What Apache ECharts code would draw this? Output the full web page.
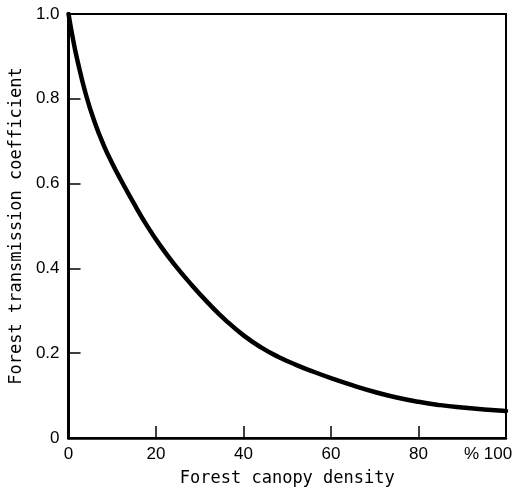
<!DOCTYPE html>
<html>
<head>
<meta charset="utf-8">
<script src="https://cdn.jsdelivr.net/npm/echarts@6/dist/echarts.min.js"></script>
<style>
html,body{margin:0;padding:0;background:#fff;}
#chart{width:520px;height:492px;}
</style>
</head>
<body>
<div id="chart"></div>
<script>
// Forest canopy density (%)
var canopyDensity = [0, 1, 2, 4, 6, 8, 10, 12, 15, 18, 21, 24, 28, 32, 36, 40, 44, 48, 52, 56, 60, 65, 70, 75, 80, 85, 90, 95, 100];
// Forest transmission coefficient
var transmission = [1.0, 0.942, 0.892, 0.809, 0.744, 0.6915, 0.6475, 0.608, 0.552, 0.4998, 0.4533, 0.412, 0.3626, 0.3176, 0.277, 0.242, 0.2136, 0.1912, 0.1726, 0.1562, 0.1412, 0.124, 0.1085, 0.0955, 0.0853, 0.0775, 0.0718, 0.0673, 0.0635];
var xTicks = [0, 20, 40, 60, 80, 100];
var yTicks = [0, 0.2, 0.4, 0.6, 0.8, 1.0];
var xTitle = 'Forest canopy density';
var yTitle = 'Forest transmission coefficient';

var points = canopyDensity.map(function (x, i) { return [x, transmission[i]]; });

var labelFamily = 'Liberation Sans, Arial, sans-serif';
var nameFont = {color: '#000', fontFamily: 'DejaVu Sans Mono, monospace', fontSize: 17};

var chart = echarts.init(document.getElementById('chart'), null, {renderer: 'canvas'});
chart.setOption({
  animation: false,
  backgroundColor: '#fff',
  grid: {left: 63, right: 14, top: 14, bottom: 52, show: true, borderColor: '#000', borderWidth: 2, backgroundColor: 'transparent'},
  xAxis: {
    type: 'value', min: xTicks[0], max: xTicks[xTicks.length - 1], interval: 20,
    name: xTitle, nameLocation: 'middle', nameGap: 32,
    nameTextStyle: nameFont,
    axisLine: {show: true, lineStyle: {color: '#000', width: 2.5}},
    axisTick: {show: true, inside: true, length: 12, lineStyle: {color: '#000', width: 1.5}},
    axisLabel: {
      margin: 8,
      formatter: function (v) { return v === 100 ? '{r|% 100}' : String(v); },
      rich: {r: {color: '#000', fontFamily: labelFamily, fontSize: 17, padding: [0, 36, 0, 0]}},
      color: '#000', fontFamily: labelFamily, fontSize: 17
    },
    splitLine: {show: false}
  },
  yAxis: {
    type: 'value', min: yTicks[0], max: yTicks[yTicks.length - 1], interval: 0.2,
    name: yTitle, nameLocation: 'middle', nameGap: 42, nameRotate: 90,
    nameTextStyle: nameFont,
    axisLine: {show: true, lineStyle: {color: '#000', width: 3}},
    axisTick: {show: true, inside: true, length: 12, lineStyle: {color: '#000', width: 1.5}},
    axisLabel: {
      margin: 9,
      formatter: function (v) { return v === 0 ? '0' : v.toFixed(1); },
      color: '#000', fontFamily: labelFamily, fontSize: 17
    },
    splitLine: {show: false}
  },
  series: [{
    type: 'line',
    data: points,
    smooth: 0.5,
    showSymbol: false,
    symbol: 'none',
    lineStyle: {color: '#000', width: 4.5, join: 'round', cap: 'round'},
    z: 5
  }]
});
</script>
</body>
</html>
